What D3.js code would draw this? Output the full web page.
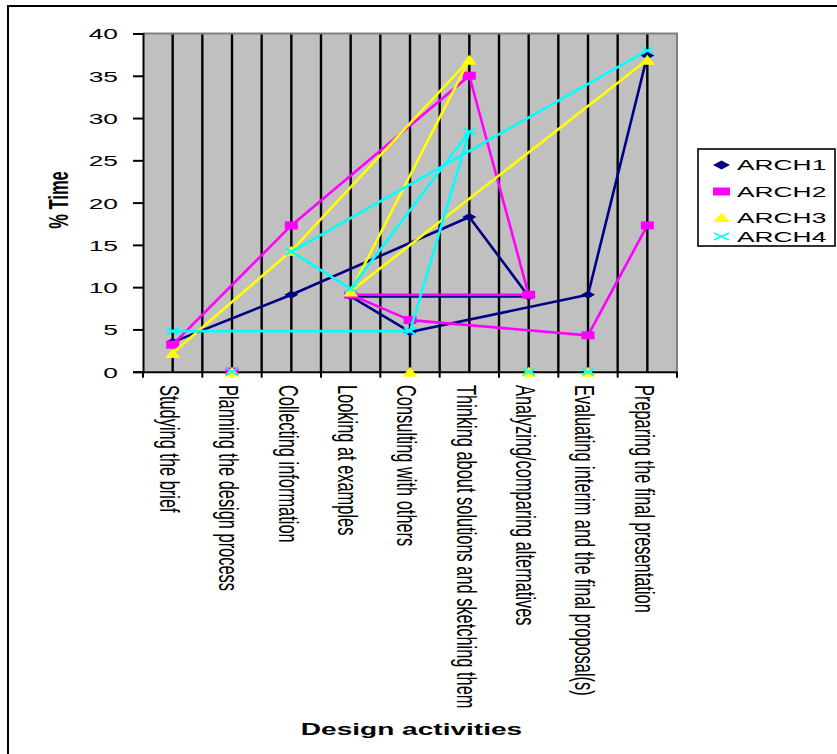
<!DOCTYPE html>
<html>
<head>
<meta charset="utf-8">
<script src="https://cdn.jsdelivr.net/npm/d3@7"></script>
<style>
  html, body { margin: 0; padding: 0; background: #fff; }
  svg { display: block; font-family: "Liberation Sans", Arial, sans-serif; }
</style>
</head>
<body>
<svg id="chart" width="837" height="754"></svg>
<script>
// ---- data ----
const categories = [
  "Studying the brief",
  "Planning the design process",
  "Collecting information",
  "Looking at examples",
  "Consulting with others",
  "Thinking about solutions and sketching them",
  "Analyzing/comparing alternatives",
  "Evaluating interim and the final proposal(s)",
  "Preparing the final presentation"
];
const seriesNames = ["ARCH1", "ARCH2", "ARCH3", "ARCH4"];
const arch1 = [3.5, 0, 9.1, 8.9, 4.7, 18.3, 8.9, 9.1, 37.4];
const arch2 = [3.2, 0, 17.3, 9.1, 6.1, 35.0, 9.1, 4.3, 17.3];
const arch3 = [2.2, 0, 14.3, 9.5, 0, 36.9, 0, 0, 36.9];
const arch4 = [4.8, 0, 14.2, 9.8, 4.8, 28.4, 0, 0, 38.0];
// order (category indices) in which each series' points are joined by its line
const order1 = [0, 1, 2, 5, 6, 3, 4, 7, 8];
const order2 = [0, 1, 2, 5, 6, 3, 4, 7, 8];
const order3 = [0, 1, 2, 5, 6, 3, 4, 7, 8];
const order4 = [0, 1, 4, 5, 3, 2, 6, 7, 8];
const yTicks = [0, 5, 10, 15, 20, 25, 30, 35, 40];
const yTitle = "% Time";
const xTitle = "Design activities";

(function () {
// ---- layout ----
const K = 1.7; // horizontal stretch of the original picture
const colors = ["#000080", "#FF00FF", "#FFFF00", "#00FFFF"];
const shapes = ["diamond", "square", "triangle", "cross"];
const values = [arch1, arch2, arch3, arch4];
const orders = [order1, order2, order3, order4];

const pL = 143, pR = 677, pT = 33.5, pB = 371.7;
const svg = d3.select("#chart");

// outer frame (right/bottom edges fall outside the picture)
svg.append("path")
  .attr("d", "M8,760 L8,6 L850,6")
  .attr("fill", "none").attr("stroke", "#000").attr("stroke-width", 2);

const x = d3.scaleBand().domain(categories).range([pL, pR]).padding(0);
const y = d3.scaleLinear().domain([0, 40]).range([pB, pT]);
const xc = d => x(d) + x.bandwidth() / 2;

// plot area
svg.append("rect")
  .attr("x", pL).attr("y", pT).attr("width", pR - pL).attr("height", pB - pT)
  .attr("fill", "#C0C0C0");

// vertical gridlines every half category
const grid = svg.append("g");
for (let i = 1; i < categories.length * 2; i++) {
  const gx = pL + i * x.bandwidth() / 2;
  grid.append("line")
    .attr("x1", gx).attr("x2", gx).attr("y1", pT).attr("y2", pB)
    .attr("stroke", "#000").attr("stroke-width", 2.4);
}
// plot border (top/right grey)
svg.append("path")
  .attr("d", `M${pL},${pT} L${pR},${pT} L${pR},${pB}`)
  .attr("fill", "none").attr("stroke", "#808080").attr("stroke-width", 2);

// y axis
const yAxis = svg.append("g").attr("transform", `translate(${pL},0)`)
  .call(d3.axisLeft(y).tickValues(yTicks).tickSize(10).tickFormat(d3.format("d")));
yAxis.select(".domain").attr("stroke", "#000").attr("stroke-width", 2);
yAxis.selectAll(".tick line").attr("stroke", "#000").attr("stroke-width", 2);
yAxis.selectAll(".tick text")
  .attr("x", null).attr("dy", "0.35em")
  .attr("transform", `translate(-25,0) scale(${K},1)`)
  .attr("text-anchor", "end")
  .attr("font-size", 15.5).attr("font-family", "Liberation Sans, Arial, sans-serif")
  .attr("fill", "#000");

// x axis line + boundary ticks
const xAxis = svg.append("g").attr("transform", `translate(0,${pB})`)
  .call(d3.axisBottom(x).tickSize(0).tickFormat(""));
xAxis.select(".domain").attr("stroke", "#000").attr("stroke-width", 2);
const bounds = categories.map(c => x(c)).concat([x.range()[1]]);
svg.append("g").selectAll("line").data(bounds).join("line")
  .attr("x1", d => d).attr("x2", d => d)
  .attr("y1", pB).attr("y2", pB + 6)
  .attr("stroke", "#000").attr("stroke-width", 2);

// x tick labels (rotated)
svg.append("g").selectAll("text").data(categories).join("text")
  .attr("transform", d => `translate(${xc(d) - 5},385) scale(${K},1) rotate(90)`)
  .attr("dy", "0.27em")
  .attr("text-anchor", "start")
  .attr("font-size", 16.4)
  .attr("fill", "#000")
  .text(d => d);

// axis titles
svg.append("text")
  .attr("transform", `translate(58.5,200) scale(${K},1) rotate(-90)`)
  .attr("text-anchor", "middle").attr("dy", "0.35em")
  .attr("font-size", 16.5).attr("font-weight", "bold")
  .text(yTitle);
svg.append("text")
  .attr("transform", `translate(411.5,735) scale(${K},1)`)
  .attr("text-anchor", "middle")
  .attr("font-size", 16.5).attr("font-weight", "bold")
  .text(xTitle);

// marker drawing
function marker(g, shape, color, cx, cy, s) {
  const w = s.w, h = s.h;
  if (shape === "diamond") {
    g.append("path").attr("d", `M${cx - w / 2},${cy} L${cx},${cy - h / 2} L${cx + w / 2},${cy} L${cx},${cy + h / 2} Z`)
      .attr("fill", color);
  } else if (shape === "square") {
    g.append("rect").attr("x", cx - w / 2).attr("y", cy - h / 2).attr("width", w).attr("height", h)
      .attr("fill", color);
  } else if (shape === "triangle") {
    g.append("path").attr("d", `M${cx - w / 2},${cy + h / 2} L${cx},${cy - h / 2} L${cx + w / 2},${cy + h / 2} Z`)
      .attr("fill", color);
  } else {
    g.append("path").attr("d", `M${cx - w / 2},${cy - h / 2} L${cx + w / 2},${cy + h / 2} M${cx - w / 2},${cy + h / 2} L${cx + w / 2},${cy - h / 2}`)
      .attr("stroke", color).attr("stroke-width", 1.8).attr("fill", "none");
  }
}
const plotSizes = {
  diamond: { w: 14, h: 8 }, square: { w: 13, h: 8 },
  triangle: { w: 15, h: 10 }, cross: { w: 12, h: 7 }
};
const legendSizes = {
  diamond: { w: 17, h: 9 }, square: { w: 17, h: 8 },
  triangle: { w: 17, h: 9 }, cross: { w: 15, h: 7 }
};

const line = d3.line().x(d => xc(categories[d.i])).y(d => y(d.v));
const seriesG = svg.append("g");
values.forEach((vals, s) => {
  const g = seriesG.append("g");
  const pts = orders[s].map(i => ({ i, v: vals[i] })).filter(p => p.v > 0);
  g.append("path").datum(pts)
    .attr("d", line)
    .attr("fill", "none").attr("stroke", colors[s]).attr("stroke-width", 2.6)
    .attr("stroke-linejoin", "round");
  vals.forEach((v, i) => marker(g, shapes[s], colors[s], xc(categories[i]), y(v), plotSizes[shapes[s]]));
});

// legend
const lg = svg.append("g");
lg.append("rect").attr("x", 698).attr("y", 149).attr("width", 137).attr("height", 97)
  .attr("fill", "#fff").attr("stroke", "#000").attr("stroke-width", 1.6);
const legendY = [165, 191.5, 217.5, 236.5];
seriesNames.forEach((name, s) => {
  marker(lg, shapes[s], colors[s], 721.5, legendY[s], legendSizes[shapes[s]]);
  lg.append("text")
    .attr("transform", `translate(737,${legendY[s]}) scale(${K},1)`)
    .attr("dy", "0.35em").attr("font-size", 15.5).attr("fill", "#000")
    .text(name);
});
})();
</script>
</body>
</html>
